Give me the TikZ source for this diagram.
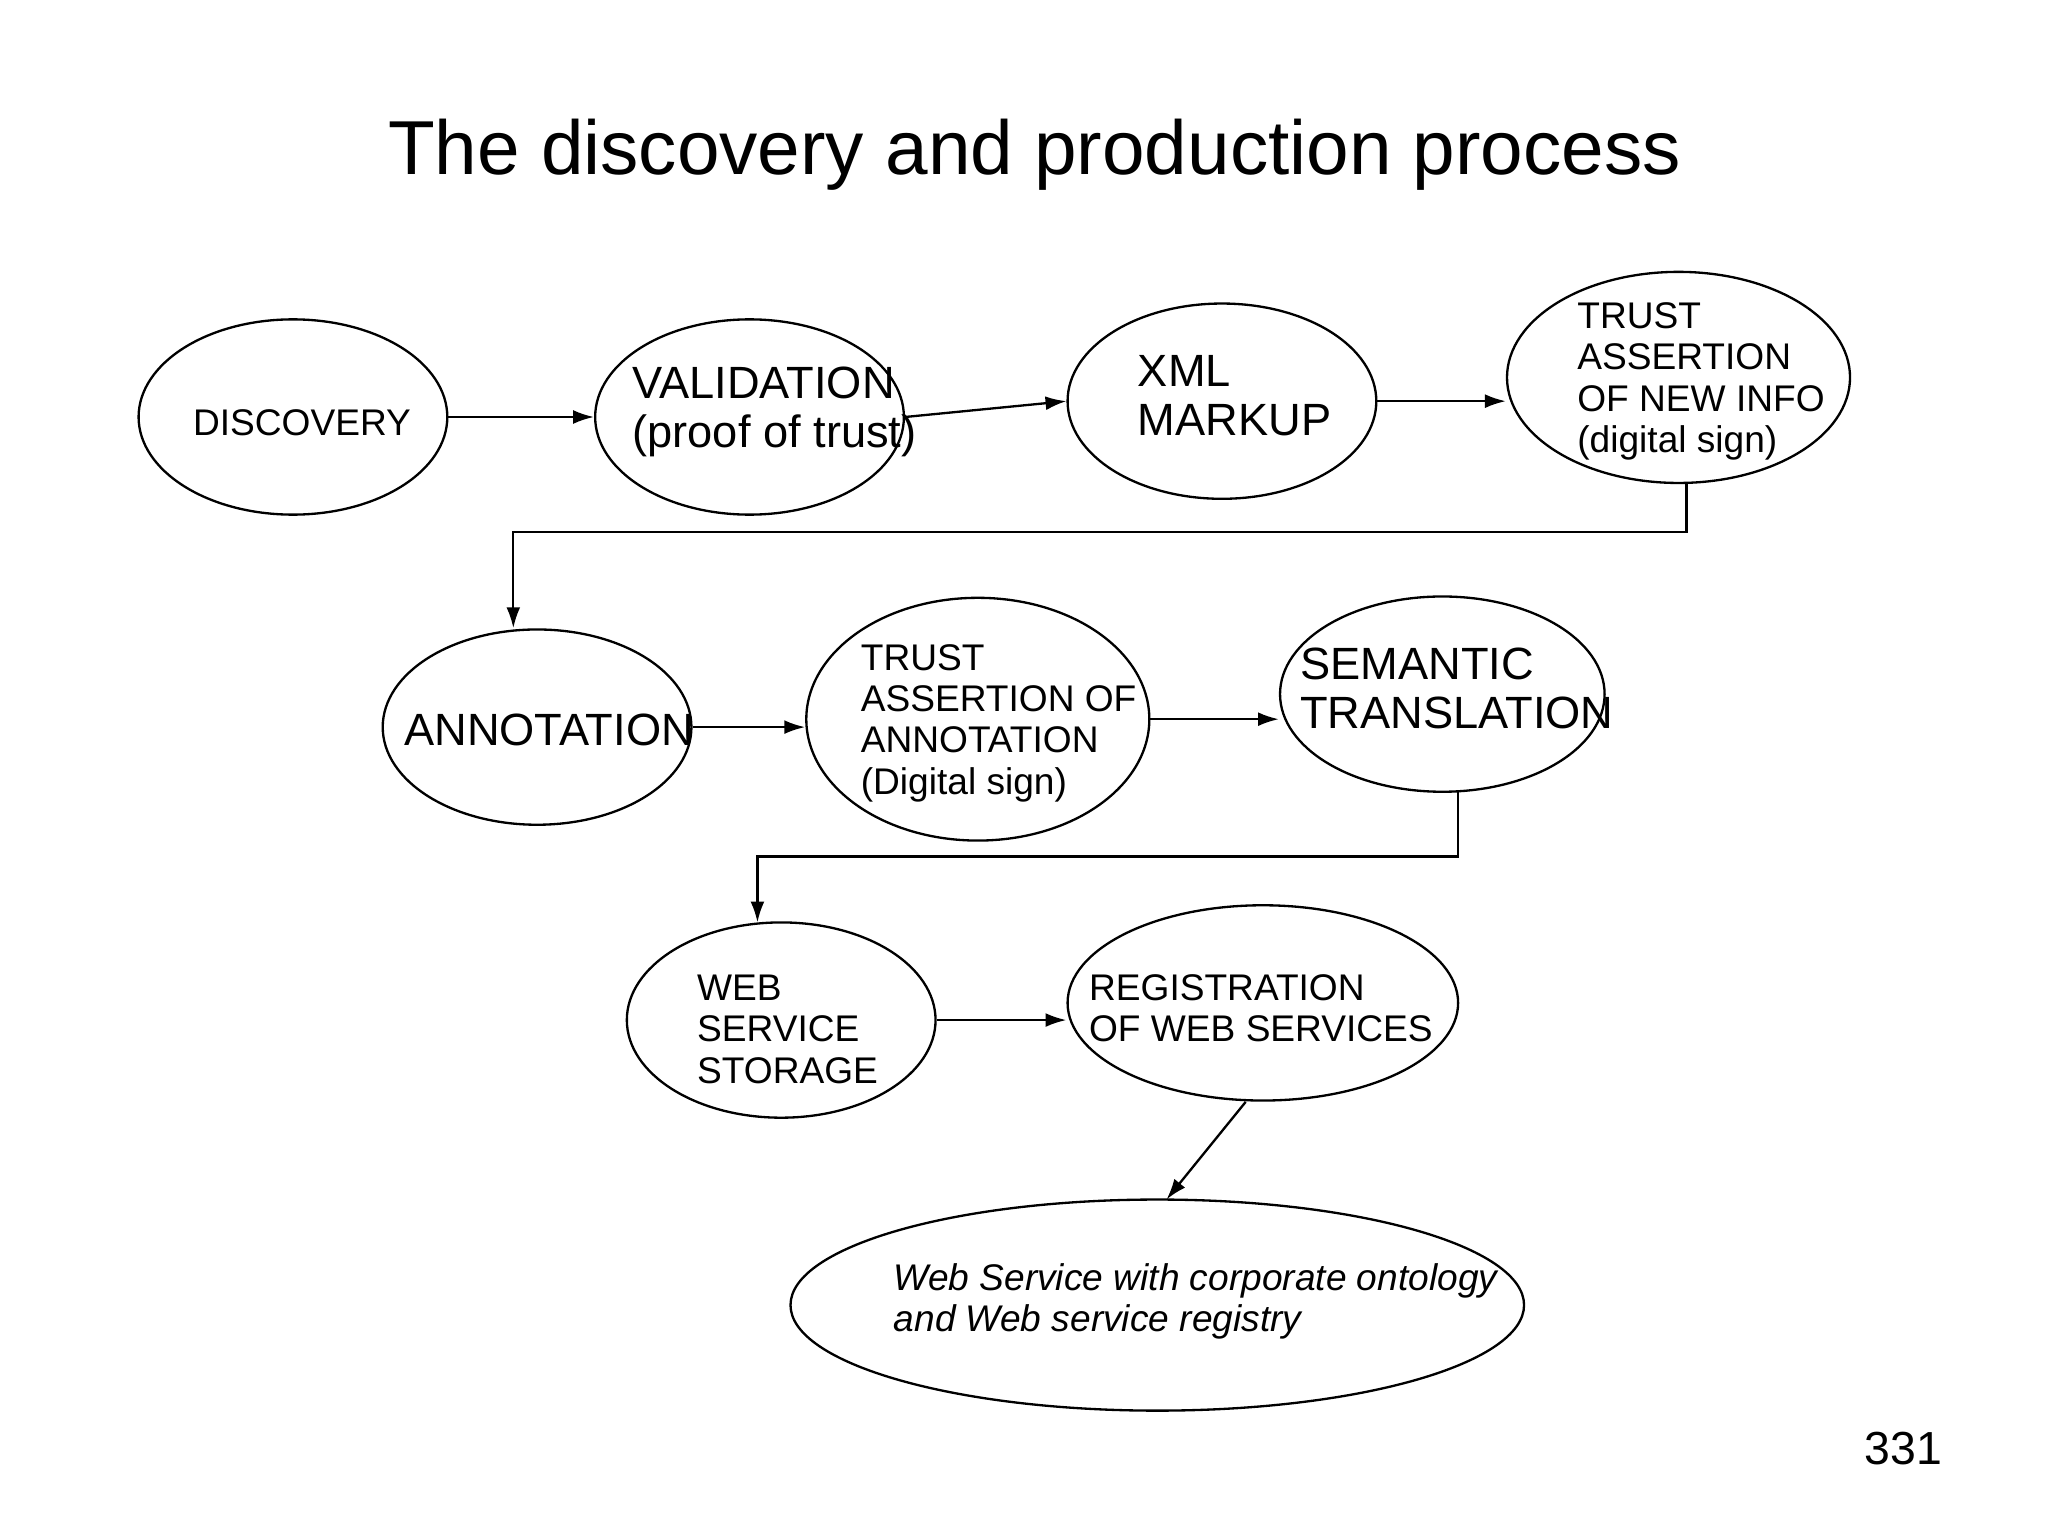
\documentclass[tikz,border=0pt]{standalone}
\usepackage{fontspec}
\setmainfont{Liberation Sans}
\usetikzlibrary{shapes.geometric,arrows.meta}
\begin{document}
\begin{tikzpicture}[x=0.02cm,y=-0.02cm,
  el/.style={draw,ellipse,line width=1pt,inner sep=0pt},
  sm/.style={anchor=west,align=left,inner sep=0pt,font=\fontsize{16}{17.8}\selectfont},
  lg/.style={anchor=west,align=left,inner sep=0pt,font=\fontsize{19.5}{21.2}\selectfont},
  arr/.style={line width=1pt,-{Latex[length=9pt,width=6pt]}}]
\useasboundingbox (0,0) rectangle (1552,1164);
\node at (784,117) {\fontsize{33}{38}\selectfont The discovery and production process};
\node[el,minimum width=234\pgflinewidth*0+4.68cm,minimum height=2.96cm] (d) at (222,316) {};
\node[el,minimum width=4.68cm,minimum height=2.96cm] (v) at (568,316) {};
\node[el,minimum width=4.68cm,minimum height=2.96cm] (x) at (926,304) {};
\node[el,minimum width=5.2cm,minimum height=3.2cm] (t1) at (1272,286) {};
\node[el,minimum width=4.68cm,minimum height=2.96cm] (a) at (407,551) {};
\node[el,minimum width=5.2cm,minimum height=3.68cm] (t2) at (741,545) {};
\node[el,minimum width=4.92cm,minimum height=2.96cm] (s) at (1093,526) {};
\node[el,minimum width=4.68cm,minimum height=2.96cm] (w) at (592,773) {};
\node[el,minimum width=5.92cm,minimum height=2.96cm] (r) at (957,760) {};
\node[el,minimum width=11.12cm,minimum height=3.2cm] (f) at (877,989) {};
\node[sm] at (146,320) {DISCOVERY};
\node[lg] at (479,312) {VALIDATION\\(proof of trust)};
\node[lg] at (862,300) {XML\\MARKUP};
\node[sm] at (1195,289) {TRUST\\ASSERTION\\OF NEW INFO\\(digital sign)};
\node[lg] at (306,553) {ANNOTATION};
\node[sm] at (652,548) {TRUST\\ASSERTION OF\\ANNOTATION\\(Digital sign)};
\node[lg] at (985,522) {SEMANTIC\\TRANSLATION};
\node[sm] at (528,780) {WEB\\SERVICE\\STORAGE};
\node[sm] at (825,764) {REGISTRATION\\OF WEB SERVICES};
\node[sm,font=\fontsize{16}{17.8}\selectfont\itshape] at (677,986) {Web Service with corporate ontology\\and Web service registry};
\node[anchor=east,inner sep=0pt] at (1472,1098) {\fontsize{20}{22}\selectfont 331};
\draw[arr] (d.east) -- (v.west);
\draw[arr] (v.east) -- (x.west);
\draw[arr] (x.east) -- (x.east -| t1.west);
\draw[arr] (t1.south -| 1278,0) -- (1278,403) -- (389,403) -- (389 ,476);
\draw[arr] (a.east) -- (a.east -| t2.west);
\draw[arr] (t2.east) -- (t2.east -| s.west);
\draw[arr] (1105,600) -- (1105,649) -- (574,649) -- (574,699);
\draw[arr] (w.east) -- (w.east -| r.west);
\draw[arr] (944,835) -- (884,909);
\end{tikzpicture}
\end{document}
